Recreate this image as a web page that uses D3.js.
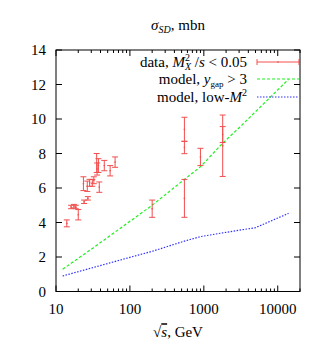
<!doctype html>
<html>
<head>
<meta charset="utf-8">
<script src="https://d3js.org/d3.v7.min.js"></script>
<style>
  body { margin: 0; background: #fff; }
  text { font-family: "Liberation Serif", "DejaVu Serif", serif; fill: #000; }
</style>
</head>
<body>
<svg></svg>
<script>
// measured points: sqrt(s) in GeV, sigma_SD in mbn, error
var dataS   = [14, 16, 17.5, 18.5, 20, 24, 27, 23.5, 26.5, 28.5, 31, 32.5, 35.5, 36, 37.5, 38.5, 45, 54, 63, 200, 546, 546, 546, 900, 1800, 1800];
var dataVal = [3.95, 4.9, 4.95, 4.9, 4.45, 5.2, 5.4, 6.25, 6.1, 6.3, 6.3, 6.45, 7.45, 7.1, 7.3, 6.05, 7.3, 7.0, 7.5, 4.8, 9.4, 8.35, 5.4, 7.8, 9.1, 8.45];
var dataErr = [0.2, 0.1, 0.1, 0.1, 0.3, 0.1, 0.1, 0.4, 0.3, 0.2, 0.2, 0.2, 0.55, 0.35, 0.4, 0.3, 0.3, 0.3, 0.3, 0.5, 0.7, 0.36, 1.1, 0.5, 0.46, 1.78];

// model, y_gap > 3
var gapS   = [12.3, 30, 200, 546, 900, 1800, 3100, 14000];
var gapVal = [1.29, 2.45, 5.0, 6.5, 7.23, 8.6, 9.55, 12.3];

// model, low-M^2
var lowS   = [12.3, 30, 100, 200, 546, 900, 1800, 5000, 14000];
var lowVal = [0.9, 1.36, 1.98, 2.33, 2.92, 3.18, 3.4, 3.7, 4.53];

var xTicks = [10, 100, 1000, 10000];
var yTicks = [0, 2, 4, 6, 8, 10, 12, 14];

var W = 332, H = 348;
var mL = 56, mR = 300, mT = 50, mB = 291.5;
var fs = "15px", fsSmall = "10px";

var svg = d3.select("svg").attr("width", W).attr("height", H);

var x = d3.scaleLog().domain([10, 20000]).range([mL, mR]);
var y = d3.scaleLinear().domain([0, 14]).range([mB, mT]);

// minor log ticks
var minor = [];
for (var d = 10; d < 20000; d *= 10) {
  for (var k = 1; k < 10; k++) {
    if (d * k <= 20000) minor.push(d * k);
  }
}

var g = svg.append("g");

minor.forEach(function(v) {
  var len = xTicks.indexOf(v) >= 0 ? 6 : 3;
  g.append("line").attr("x1", x(v)).attr("x2", x(v)).attr("y1", mB).attr("y2", mB - len)
    .attr("stroke", "#000").attr("stroke-width", 1);
  g.append("line").attr("x1", x(v)).attr("x2", x(v)).attr("y1", mT).attr("y2", mT + len)
    .attr("stroke", "#000").attr("stroke-width", 1);
});

yTicks.forEach(function(v) {
  g.append("line").attr("x1", mL).attr("x2", mL + 6).attr("y1", y(v)).attr("y2", y(v))
    .attr("stroke", "#000");
  g.append("line").attr("x1", mR).attr("x2", mR - 6).attr("y1", y(v)).attr("y2", y(v))
    .attr("stroke", "#000");
  g.append("text").attr("x", mL - 10).attr("y", y(v)).attr("dy", "0.35em")
    .attr("text-anchor", "end").style("font-size", fs).text(v);
});

xTicks.forEach(function(v) {
  g.append("text").attr("x", x(v)).attr("y", mB + 17).attr("dy", "0.35em")
    .attr("text-anchor", "middle").style("font-size", fs).text(v);
});

// frame
svg.append("rect").attr("x", mL).attr("y", mT).attr("width", mR - mL).attr("height", mB - mT)
  .attr("fill", "none").attr("stroke", "#000").attr("stroke-width", 1);

// model lines
var line = d3.line().x(function(d) { return x(d[0]); }).y(function(d) { return y(d[1]); });

svg.append("path").datum(d3.zip(gapS, gapVal)).attr("d", line)
  .attr("fill", "none").attr("stroke", "#20f020").attr("stroke-width", 1.2).attr("stroke-dasharray", "3,2");
svg.append("path").datum(d3.zip(lowS, lowVal)).attr("d", line)
  .attr("fill", "none").attr("stroke", "#3030ff").attr("stroke-width", 1.2).attr("stroke-dasharray", "1.5,1.5");

// data with error bars
var red = "#f03030";
var pts = svg.append("g").attr("stroke", red).attr("stroke-width", 1).attr("opacity", 0.85);
dataS.forEach(function(s, i) {
  var cx = x(s), lo = y(dataVal[i] - dataErr[i]), hi = y(dataVal[i] + dataErr[i]);
  pts.append("line").attr("x1", cx).attr("x2", cx).attr("y1", lo).attr("y2", hi);
  pts.append("line").attr("x1", cx - 3).attr("x2", cx + 3).attr("y1", lo).attr("y2", lo);
  pts.append("line").attr("x1", cx - 3).attr("x2", cx + 3).attr("y1", hi).attr("y2", hi);
  pts.append("rect").attr("x", cx - 0.7).attr("y", y(dataVal[i]) - 0.7).attr("width", 1.4).attr("height", 1.4)
    .attr("fill", red).attr("stroke", "none");
});

// legend
var lx = 247, sx1 = 257, sx2 = 299;
var rows = [62, 79, 97];

var t1 = svg.append("text").attr("x", lx).attr("y", rows[0]).attr("dy", "0.35em")
  .attr("text-anchor", "end").style("font-size", fs);
t1.append("tspan").text("data, ");
t1.append("tspan").style("font-style", "italic").text("M");
t1.append("tspan").attr("dy", -6).style("font-size", fsSmall).text("2");
t1.append("tspan").attr("dx", -5).attr("dy", 9).style("font-size", fsSmall).style("font-style", "italic").text("X");
t1.append("tspan").attr("dy", -3).text(" /");
t1.append("tspan").style("font-style", "italic").text("s");
t1.append("tspan").text(" < 0.05");

var t2 = svg.append("text").attr("x", lx).attr("y", rows[1]).attr("dy", "0.35em")
  .attr("text-anchor", "end").style("font-size", fs);
t2.append("tspan").text("model, ");
t2.append("tspan").style("font-style", "italic").text("y");
t2.append("tspan").attr("dy", 3).style("font-size", "9px").text("gap");
t2.append("tspan").attr("dy", -3).text(" > 3");

var t3 = svg.append("text").attr("x", lx).attr("y", rows[2]).attr("dy", "0.35em")
  .attr("text-anchor", "end").style("font-size", fs);
t3.append("tspan").text("model, low-");
t3.append("tspan").style("font-style", "italic").text("M");
t3.append("tspan").attr("dy", -6).style("font-size", fsSmall).text("2");

var lg = svg.append("g").attr("stroke", red).attr("opacity", 0.85);
lg.append("line").attr("x1", sx1).attr("x2", sx2).attr("y1", rows[0]).attr("y2", rows[0]);
lg.append("line").attr("x1", sx1).attr("x2", sx1).attr("y1", rows[0] - 3).attr("y2", rows[0] + 3);
lg.append("line").attr("x1", sx2).attr("x2", sx2).attr("y1", rows[0] - 3).attr("y2", rows[0] + 3);
lg.append("rect").attr("x", (sx1 + sx2) / 2 - 0.7).attr("y", rows[0] - 0.7).attr("width", 1.4).attr("height", 1.4)
  .attr("fill", red).attr("stroke", "none");

svg.append("line").attr("x1", sx1).attr("x2", sx2).attr("y1", rows[1]).attr("y2", rows[1])
  .attr("stroke", "#20f020").attr("stroke-width", 1.2).attr("stroke-dasharray", "3,2");
svg.append("line").attr("x1", sx1).attr("x2", sx2).attr("y1", rows[2]).attr("y2", rows[2])
  .attr("stroke", "#3030ff").attr("stroke-width", 1.2).attr("stroke-dasharray", "1.5,1.5");

// title
var tt = svg.append("text").attr("x", 178).attr("y", 25).attr("dy", "0.35em")
  .attr("text-anchor", "middle").style("font-size", fs);
tt.append("tspan").style("font-style", "italic").text("σ");
tt.append("tspan").attr("dy", 3).style("font-size", fsSmall).style("font-style", "italic").text("SD");
tt.append("tspan").attr("dy", -3).text(", mbn");

// x label
var xl = svg.append("text").attr("x", 178).attr("y", 332).attr("dy", "0.35em")
  .attr("text-anchor", "middle").style("font-size", fs);
xl.append("tspan").text("√");
xl.append("tspan").style("font-style", "italic").style("text-decoration", "overline").text("s");
xl.append("tspan").text(", GeV");
</script>
</body>
</html>
